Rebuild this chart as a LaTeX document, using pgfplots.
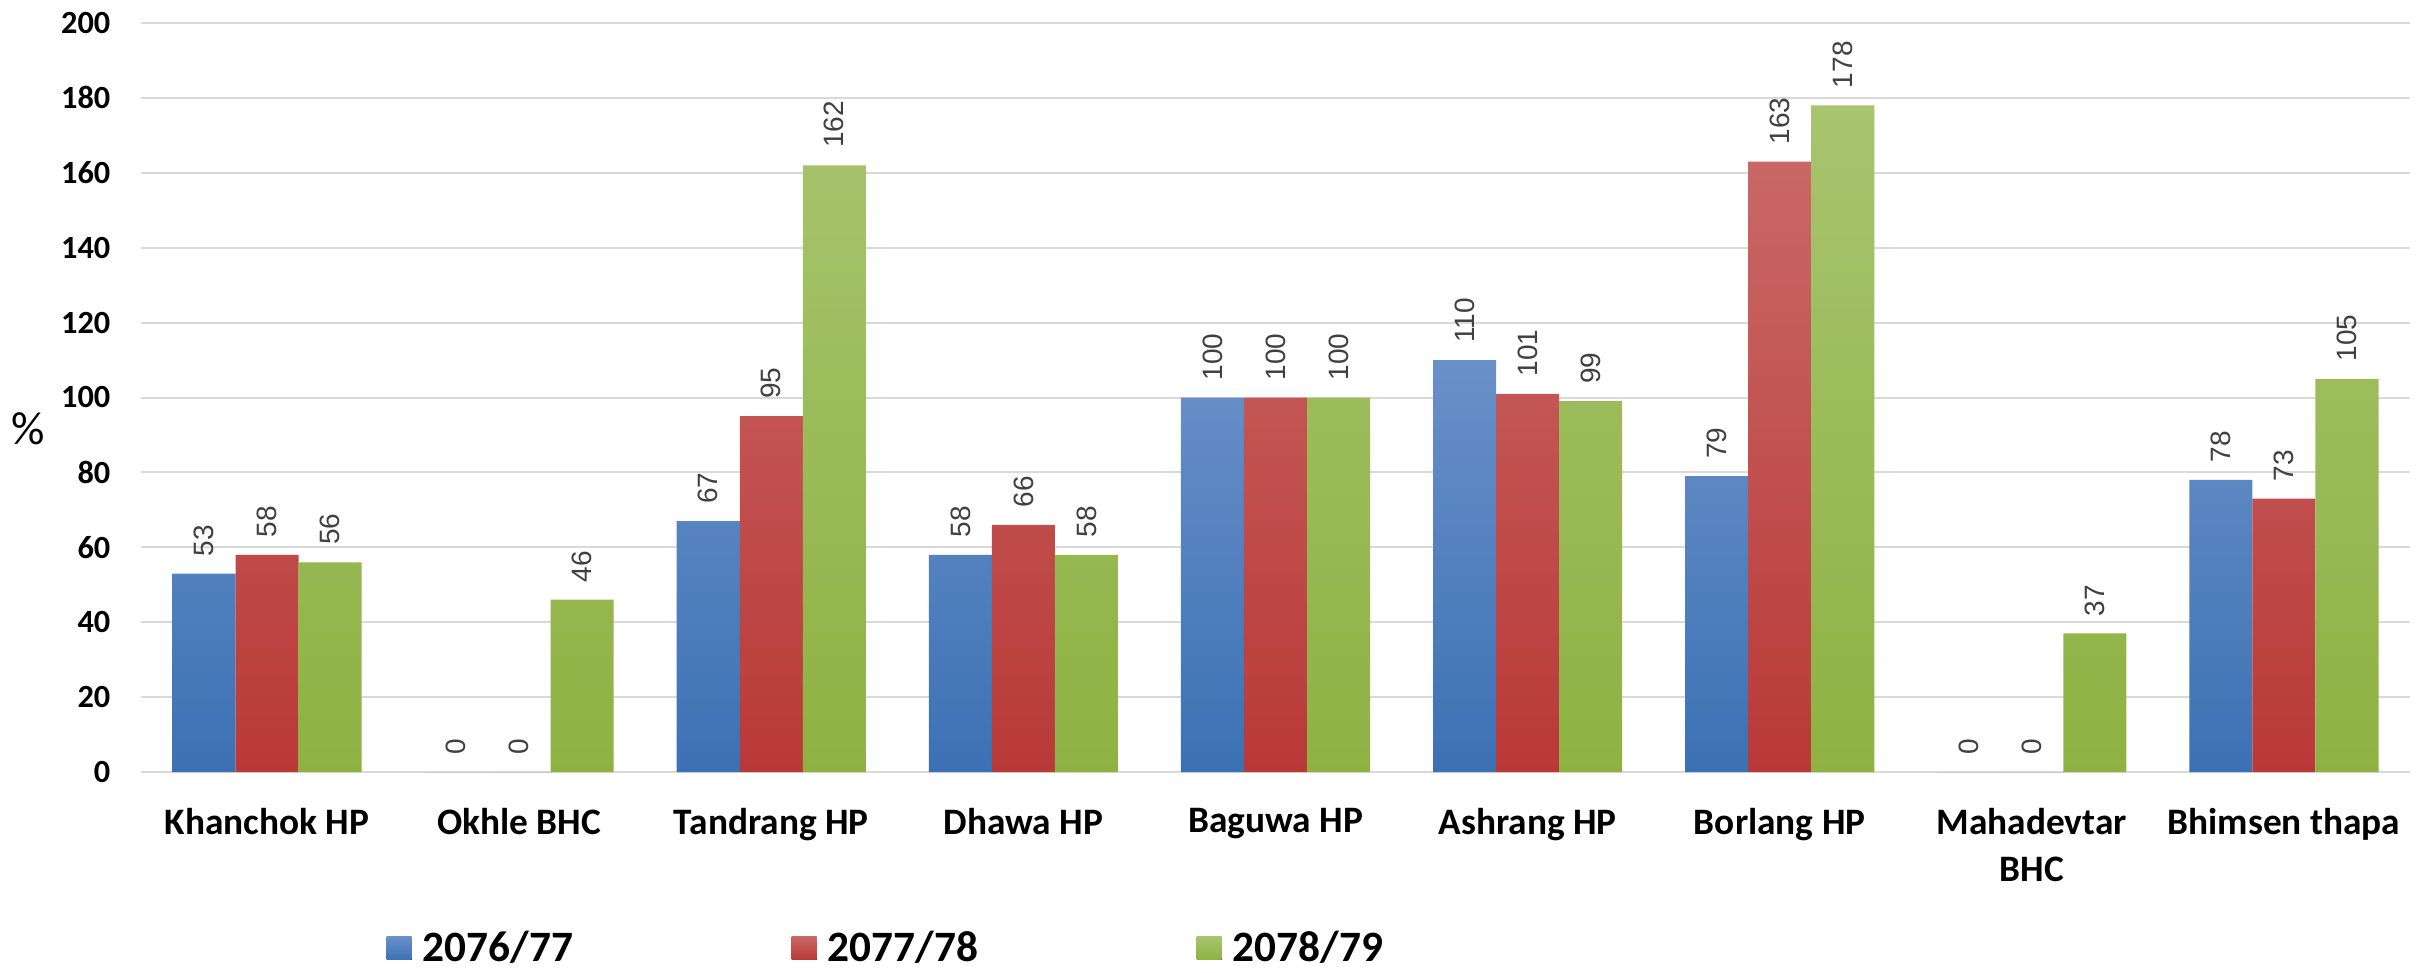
\documentclass[border=0pt]{standalone}
\usepackage{pgfplots}
\usepackage{pgfplotstable}
\pgfplotsset{compat=1.18}
\usepackage{fontspec}
\setmainfont{Carlito}
\newfontfamily\labfont{Liberation Sans}
\definecolor{bluetop}{HTML}{6A90C8}
\definecolor{bluebot}{HTML}{3B71B4}
\definecolor{redtop}{HTML}{C96866}
\definecolor{redbot}{HTML}{B93937}
\definecolor{greentop}{HTML}{A8C46F}
\definecolor{greenbot}{HTML}{8EB242}
\definecolor{gridgray}{HTML}{D9D9D9}
\definecolor{labgray}{HTML}{404040}
\pgfplotstableread{
x a b c
0 53 58 56
1 0 0 46
2 67 95 162
3 58 66 58
4 100 100 100
5 110 101 99
6 79 163 178
7 0 0 37
8 78 73 105
}\data
\begin{document}
\begin{tikzpicture}
\begin{axis}[
  name=ax,
  scale only axis,
  width=680.7pt, height=224.7pt,
  xmin=-0.5, xmax=8.5, ymin=0, ymax=200,
  ytick={0,20,...,200},
  xtick={0,...,8},
  xticklabels={Khanchok HP, Okhle BHC, Tandrang HP, Dhawa HP, Baguwa HP, Ashrang HP, Borlang HP, {Mahadevtar\\BHC}, Bhimsen thapa},
  ymajorgrids, grid style={draw=gridgray, line width=0.6pt},
  axis line style={draw=none},
  major tick length=0pt,
  /pgf/number format/assume math mode=true,
  yticklabel style={font=\bfseries\fontsize{9.7}{11}\selectfont, anchor=east, inner sep=0pt, xshift=-9pt},
  xticklabel style={font=\bfseries\fontsize{11.2}{14.1}\selectfont, align=center, anchor=north, inner sep=0pt, yshift=-10.8pt},
  ybar, bar width=0.25,
  every axis plot post/.append style={legend image code/.code={\fill[##1] (0pt,-3.45pt) rectangle (7.5pt,3.45pt);}},
  nodes near coords,
  every node near coord/.append style={rotate=90, anchor=west, font=\labfont\fontsize{8.4}{10}\selectfont, text=labgray, inner xsep=5pt, inner ysep=0pt},
  ylabel={\%}, ylabel style={rotate=-90, at={(axis description cs:-0.0498,0.458)}, anchor=center, font=\fontsize{14}{16}\selectfont},
  legend columns=3,
  legend style={at={(axis description cs:0.108,-0.2354)}, anchor=west, draw=none, fill=none, inner sep=0pt, nodes={inner sep=0pt}, font=\bfseries\fontsize{13}{15}\selectfont, /tikz/every odd column/.append style={column sep=3.3pt}},
]
\addplot[draw=none, bar shift=-0.25, top color=bluetop, bottom color=bluebot] table[x=x,y=a]{\data};
\addlegendentry{\makebox[110.7pt][l]{2076/77}}
\addplot[draw=none, bar shift=0, top color=redtop, bottom color=redbot] table[x=x,y=b]{\data};
\addlegendentry{\makebox[110.7pt][l]{2077/78}}
\addplot[draw=none, bar shift=0.25, top color=greentop, bottom color=greenbot] table[x=x,y=c]{\data};
\addlegendentry{2078/79}
\end{axis}
\pgfresetboundingbox
\path[use as bounding box] ([shift={(-42.3pt,-60.3pt)}]ax.south west) rectangle ([shift={(3pt,6.9pt)}]ax.north east);
\end{tikzpicture}
\end{document}
